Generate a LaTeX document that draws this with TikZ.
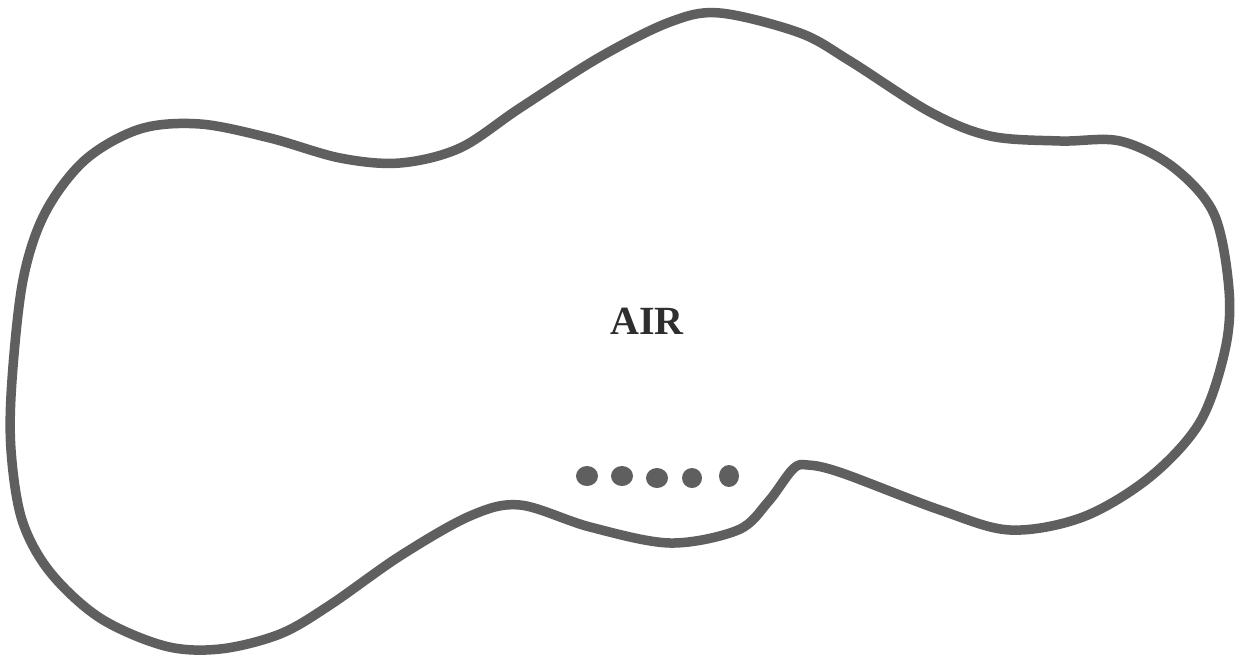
\documentclass[tikz,border=0pt]{standalone}
\usepackage{fontspec}
\setmainfont{Liberation Serif}
\definecolor{ink}{HTML}{5F5F5F}
\definecolor{txt}{HTML}{2E2E2E}
\tikzset{
  outline/.style={draw=ink, line width=9.5pt, line join=round},
  drop/.style={fill=ink},
  label/.style={text=txt, font=\fontsize{40}{40}\selectfont\bfseries, inner sep=0pt}
}
\begin{document}
\begin{tikzpicture}[x=1pt,y=-1pt]
\useasboundingbox (0,0) rectangle (1241,667);
\fill[white] (0,0) rectangle (1241,667);
\draw[outline] plot[smooth cycle, tension=0.55] coordinates {
(23,280) (12,380) (11,450) (22,520) (50,572) (100,618) (165,646) (220,649)
(280,634) (330,605) (400,556) (470,516) (520,505) (590,527) (670,543)
(738,530) (768,502) (793,469) (808,465) (842,473) (940,510) (1010,530)
(1083,517) (1150,477) (1200,422) (1225,350) (1229,290) (1214,214)
(1173,167) (1120,141) (1060,141) (990,136) (930,112) (850,61) (800,33)
(720,13) (670,22) (600,57) (520,108) (460,148) (400,163) (340,158)
(270,138) (200,124) (140,129) (85,160) (45,213)};
\node[label] (air) at (647,321) {AIR};
\fill[drop] (587,476) ellipse [x radius=11, y radius=10];
\fill[drop] (622,476) ellipse [x radius=11, y radius=10];
\fill[drop] (657,478) ellipse [x radius=11, y radius=10];
\fill[drop] (692,478) ellipse [x radius=10, y radius=10];
\fill[drop] (729,476) ellipse [x radius=10, y radius=11];
\end{tikzpicture}
\end{document}
